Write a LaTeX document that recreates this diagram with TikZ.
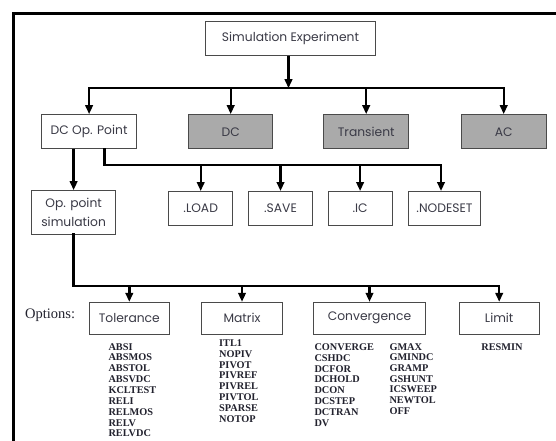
\documentclass[tikz,border=0pt]{standalone}
\usepackage{fontspec}
\setmainfont{Liberation Serif}
\setsansfont{Poppins}
\usetikzlibrary{arrows.meta}
\definecolor{ink}{HTML}{22222E}
\definecolor{label}{HTML}{3A3A46}
\definecolor{boxgray}{HTML}{AAAAAA}
\definecolor{edge}{HTML}{4A4A4A}
\begin{document}
\begin{tikzpicture}[x=1pt,y=-1pt,
  box/.style={draw=edge, line width=0.9pt, inner sep=0pt, text=label, align=center,
    font=\sffamily\fontsize{12.3}{18.3}\selectfont},
  shaded/.style={box, fill=boxgray},
  wire/.style={line width=2.4pt, draw=black},
  arr/.style={wire, -{Triangle[width=7.5pt,length=9pt]}},
  bus/.style={wire, line cap=rect, line join=miter},
  opt/.style={font=\bfseries\fontsize{10.3}{10.9}\selectfont, text=ink, inner sep=0pt, anchor=base west}]

\useasboundingbox (0,0) rectangle (556,441);
\fill[white] (0,0) rectangle (556,441);
% outer frame
\draw[line width=3pt, line join=miter] (13,441) -- (13,14) -- (556,14);

% top level
\node[box, minimum width=170.4pt, minimum height=33.8pt] (sim) at (290.5,38.8) {Simulation Experiment};

% analysis types
\node[box, minimum width=95.6pt, minimum height=34.3pt] (dcop) at (89.1,131.75) {DC Op. Point};
\node[shaded, minimum width=84pt, minimum height=34.3pt] (dc) at (230.7,131.75) {DC};
\node[shaded, minimum width=84.7pt, minimum height=34.3pt] (tran) at (366.2,131.75) {Transient};
\node[shaded, minimum width=84.6pt, minimum height=34.3pt] (ac) at (503.7,131.75) {AC};

% DC operating point branch
\node[box, minimum width=84.3pt, minimum height=43.4pt] (opsim) at (73.6,212.3) {Op. point\\simulation};
\node[box, minimum width=64.2pt, minimum height=34pt] (load) at (200.7,208.5) {.LOAD};
\node[box, minimum width=63.5pt, minimum height=34pt] (save) at (280.5,208.5) {.SAVE};
\node[box, minimum width=64.2pt, minimum height=34pt] (ic) at (360.1,208.5) {.IC};
\node[box, minimum width=72pt, minimum height=34pt] (nodeset) at (444.5,208.5) {.NODESET};

% option groups
\node[font=\fontsize{14.5}{16}\selectfont, text=ink, inner sep=0pt, anchor=base west] (optlabel) at (25,318.5) {Options:};
\node[box, minimum width=80pt, minimum height=32pt] (tol) at (129.3,318.3) {Tolerance};
\node[box, minimum width=81.4pt, minimum height=32pt] (mat) at (242,318.3) {Matrix};
\node[box, minimum width=112.4pt, minimum height=32pt] (conv) at (369.5,318.3) {Convergence};
\node[box, minimum width=80.3pt, minimum height=32pt] (lim) at (499.2,318.3) {Limit};

% bus levels
\coordinate (busA) at (0,88.2);
\coordinate (busB) at (0,165.2);
\coordinate (busC) at (0,285.8);
\coordinate (ndin) at ([xshift=-3.5pt]nodeset.north);

% connectors from the top box
\draw[arr] ([xshift=-2pt]sim.south) -- ([xshift=-2pt]sim.south |- busA);
\draw[bus] (dcop.north |- busA) -- (ac.north |- busA);
\foreach \n in {dcop,dc,tran,ac}
  \draw[arr] (\n.north |- busA) -- (\n.north);

% connectors from DC Op. Point
\draw[arr] ([xshift=-15.5pt]dcop.south) -- ([xshift=-15.5pt]dcop.south |- opsim.north);
\draw[bus] ([xshift=15.5pt]dcop.south) |- (ndin |- busB);
\foreach \n in {load,save,ic}
  \draw[arr] (\n.north |- busB) -- (\n.north);
\draw[arr] (ndin |- busB) -- (ndin);

% connectors to the option groups
\draw[bus] (opsim.south) |- (lim.north |- busC);
\foreach \n in {tol,mat,conv,lim}
  \draw[arr] (\n.north |- busC) -- (\n.north);

% option keywords
\foreach \w [count=\i from 0] in {ABSI,ABSMOS,ABSTOL,ABSVDC,KCLTEST,RELI,RELMOS,RELV,RELVDC}
  \node[opt] (tol-\i) at (108.3,350.1+10.85*\i) {\w};
\foreach \w [count=\i from 0] in {ITL1,NOPIV,PIVOT,PIVREF,PIVREL,PIVTOL,SPARSE,NOTOP}
  \node[opt] (mat-\i) at (219,346.1+10.95*\i) {\w};
\foreach \w [count=\i from 0] in {CONVERGE,CSHDC,DCFOR,DCHOLD,DCON,DCSTEP,DCTRAN,DV}
  \node[opt] (cva-\i) at (314.3,350.1+10.95*\i) {\w};
\foreach \w [count=\i from 0] in {GMAX,GMINDC,GRAMP,GSHUNT,ICSWEEP,NEWTOL,OFF}
  \node[opt] (cvb-\i) at (389.3,350.1+10.7*\i) {\w};
\node[opt, anchor=base] (resmin) at (502,350.1) {RESMIN};
\end{tikzpicture}
\end{document}
